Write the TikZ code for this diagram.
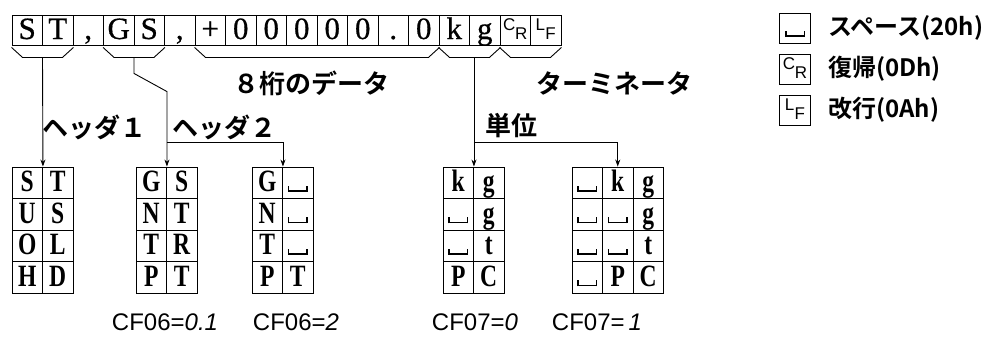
\documentclass[tikz,border=0pt]{standalone}
\usepackage{fontspec}
\setmainfont{Liberation Serif}
\setsansfont{Liberation Sans}
\newfontfamily\rowfont{Liberation Serif}[FakeBold=0.6]
\newfontfamily\jpfont{Noto Sans CJK JP Bold}
\usepackage{graphicx}
\usetikzlibrary{arrows.meta,calc,positioning}

% symbols used in the cells
\newcommand\spc{\rule{1.3pt}{6pt}\rule{17pt}{1.6pt}\rule{1.3pt}{6pt}}
\newcommand\tspc{\rule{1.7pt}{6pt}\rule{23pt}{1.6pt}\rule{1.7pt}{6pt}}
\newcommand\crsym{{\sffamily\fontsize{17}{17}\selectfont\raisebox{9pt}{C}\kern-0.5pt R}}
\newcommand\lfsym{{\sffamily\fontsize{17}{17}\selectfont\raisebox{9pt}{L}\kern0.3pt F}}
% bracket under a run of cells
\newcommand\underbrk[3]{%
  \draw[conn] ([yshift=-2pt]#1.south west) -- ++(11,10) -- ([shift={(-11pt,-12pt)}]#2.south east) -- ([yshift=-2pt]#2.south east);
  \coordinate (#3) at ($([yshift=-12pt]#1.south west)!.5!([yshift=-12pt]#2.south east)$);}

\begin{document}
\begin{tikzpicture}[x=1pt,y=-1pt,
  cell/.style={draw,line width=0.9pt,minimum width=30.5pt,minimum height=30pt,inner sep=0pt,
    text height=21pt,text depth=3pt,font=\rowfont\fontsize{31}{31}\selectfont},
  tcell/.style={cell,minimum height=31.5pt,font=\bfseries\fontsize{31}{31}\selectfont},
  lbl/.style={font=\jpfont\fontsize{26}{26}\selectfont,inner sep=0pt},
  key/.style={font=\jpfont\fontsize{24}{24}\selectfont,inner sep=0pt,anchor=west},
  cfl/.style={font=\sffamily\fontsize{24}{24}\selectfont,inner sep=0pt},
  conn/.style={line width=0.9pt},
  >={Stealth[length=7pt,width=5pt]}]

\useasboundingbox (0,0) rectangle (994,338);

% frame
\foreach \ch [count=\i from 0] in {S,T,{,},G,S,{,},+,0,0,0,0,0,.,0,k,g,\crsym,\lfsym}
  \node[cell] (c\i) at (27.25+\i*30.5,30) {\ch};

\underbrk{c0}{c1}{bA}
\underbrk{c3}{c4}{bB}
\underbrk{c6}{c13}{bData}
\underbrk{c14}{c15}{bUnit}
\underbrk{c16}{c17}{bTerm}

\node[lbl] (data) at (311,83) {８桁のデータ};
\node[lbl] (term) at (614,83) {ターミネータ};
\node[lbl] (head1) at (94,127) {ヘッダ１};
\node[lbl] (head2) at (224,127) {ヘッダ２};
\node[lbl] (unit) at (511,126) {単位};

% header and unit tables
\foreach \row [count=\r] in {{S,T},{U,S},{O,L},{H,D}}
  \foreach \ch [count=\c] in \row
    \node[tcell] (hA-\r-\c) at (-3.25+\c*30.5,151.25+\r*31.5) {\scalebox{.76}[1]{\ch}};
\foreach \row [count=\r] in {{G,S},{N,T},{T,R},{P,T}}
  \foreach \ch [count=\c] in \row
    \node[tcell] (hB-\r-\c) at (120.75+\c*30.5,151.25+\r*31.5) {\scalebox{.76}[1]{\ch}};
\foreach \row [count=\r] in {{G,\tspc},{N,\tspc},{T,\tspc},{P,T}}
  \foreach \ch [count=\c] in \row
    \node[tcell] (hC-\r-\c) at (236.75+\c*30.5,151.25+\r*31.5) {\scalebox{.76}[1]{\ch}};
\foreach \row [count=\r] in {{k,g},{\tspc,g},{\tspc,t},{P,C}}
  \foreach \ch [count=\c] in \row
    \node[tcell] (hD-\r-\c) at (427.75+\c*30.5,151.25+\r*31.5) {\scalebox{.76}[1]{\ch}};
\foreach \row [count=\r] in {{\tspc,k,g},{\tspc,\tspc,g},{\tspc,\tspc,t},{\tspc,P,C}}
  \foreach \ch [count=\c] in \row
    \node[tcell] (hE-\r-\c) at (556.75+\c*30.5,151.25+\r*31.5) {\scalebox{.76}[1]{\ch}};

% connectors
\draw[conn,->] (bA) -- (hA-1-1.north east);
\draw[conn,->] (bB) -- ++(0,16) -- ([yshift=75pt]hB-1-1.north east) -- (hB-1-1.north east);
\coordinate (jB) at ([yshift=24pt]hB-1-1.north east);
\draw[conn,->] (jB) -| (hC-1-1.north east);
\draw[conn,->] (hD-1-1.north east |- bUnit) -- (hD-1-1.north east);
\coordinate (jD) at ([yshift=24pt]hD-1-1.north east);
\draw[conn,->] (jD) -| (hE-1-2.north);

\node[cfl] (cfB) at (165,322) {CF06=\textit{0.1}};
\node[cfl] (cfC) at (296,322) {CF06=\textit{2}};
\node[cfl] (cfD) at (475,322) {CF07=\textit{0}};
\node[cfl] (cfE) at (597,322) {CF07=\,\textit{1}};

% legend
\node[cell] (kSp) at (795,28) {\spc};
\node[cell] (kCr) at (795,69) {\crsym};
\node[cell] (kLf) at (795,110) {\lfsym};
\node[key] (tSp) at (828,28) {スペース(20h)};
\node[key] (tCr) at (828,69) {復帰(0Dh)};
\node[key] (tLf) at (828,110) {改行(0Ah)};
\end{tikzpicture}
\end{document}
